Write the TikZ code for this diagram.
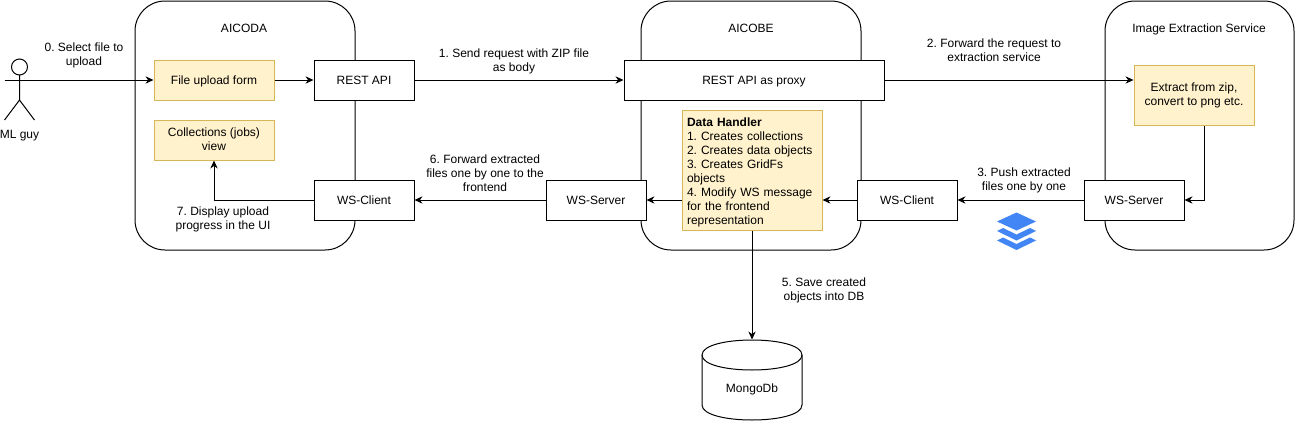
\documentclass[tikz,border=0pt]{standalone}
\usepackage{fontspec}
\setmainfont{Liberation Sans}
\usetikzlibrary{arrows.meta}
\definecolor{notefill}{HTML}{FFF2CC}
\definecolor{noteline}{HTML}{D6B656}
\definecolor{stackblue}{HTML}{4285F4}
\begin{document}
\frenchspacing
\begin{tikzpicture}[
      x=.75pt, y=-.75pt,
      line width=.75pt,
      every node/.style={font=\fontsize{9}{10.5}\selectfont, inner sep=0,
        execute at begin node=\rule{0pt}{8.4pt}, execute at end node=\rule[-1pt]{0pt}{1pt}},
      service/.style={draw, rounded corners=22.5pt},
      box/.style={draw, fill=white, minimum width=75pt, minimum height=30pt},
      note/.style={draw=noteline, fill=notefill, minimum width=90pt, minimum height=30pt, align=center},
      caption/.style={align=center},
      lines/.style={execute at begin node=\rule{0pt}{9.9pt}},
      flow/.style={-{Stealth[length=6pt, width=5.5pt]}}
    ]
    \useasboundingbox (0,0) rectangle (1295,421);

    \draw[service] (135,1) rectangle (355,250);
    \draw[service] (641,1) rectangle (861,250);
    \draw[service] (1105,1) rectangle (1294,250);
    \node[caption] (aicoda) at (244,28) {AICODA};
    \node[caption] (aicobe) at (751,28) {AICOBE};
    \node[caption] (extraction) at (1199,28) {Image Extraction Service};

    \node[note] (form) at (214,80) {File upload form};
    \node[note, lines] (collections) at (214,140) {Collections (jobs)\\view};
    \node[box] (codarest) at (364,80) {REST API};
    \node[box] (codaclient) at (364,200) {WS-Client};
    \node[box, minimum width=195pt] (proxy) at (754,80) {REST API as proxy};
    \node[box] (beserver) at (596,200) {WS-Server};
    \node[box] (beclient) at (907,200) {WS-Client};
    \node[box] (exserver) at (1134,200) {WS-Server};
    \node[note, lines, minimum height=45pt] (extract) at (1194,95.5) {Extract from zip,\\convert to png etc.};
    \node[note, lines, minimum width=105pt, minimum height=90pt, text width=97.5pt, align=left] (handler) at (752,170) {%
      \textbf{Data Handler}\\1. Creates collections\\2. Creates data objects\\3. Creates GridFs\\objects\\4. Modify WS message\\for the frontend\\representation};

    \coordinate (head) at (19.5,67);
    \coordinate (hip) at (19.5,100);
    \coordinate (armleft) at (4.5,80);
    \coordinate (armright) at (34.5,80);
    \draw (head) circle (6pt);
    \draw (19.5,75) -- (hip) -- (4.5,120) (hip) -- (34.5,120);
    \draw (armleft) -- (armright);
    \node[caption] (guy) at (19.5,134) {ML guy};

    \node[minimum width=75pt, minimum height=60pt] (mongo) at (752,380) {};
    \draw (702,355) .. controls (702,335) and (802,335) .. (802,355)
      -- (802,405) .. controls (802,425) and (702,425) .. (702,405) -- cycle;
    \draw (702,355) .. controls (702,375) and (802,375) .. (802,355);
    \node[caption] (mongolabel) at (752,388) {MongoDb};

    \draw[flow] (armright) -- (form);
    \draw[flow] (form) -- (codarest);
    \draw[flow] (codarest) -- (proxy);
    \draw[flow] (proxy.east) -- (proxy.east -| extract.west);
    \draw[flow] ([xshift=7.5pt]extract.south) |- (exserver.east);
    \draw[flow] (exserver) -- (beclient);
    \draw[flow] (beclient) -- (beclient -| handler.east);
    \draw[flow] (beserver -| handler.west) -- (beserver);
    \draw[flow] (beserver) -- (codaclient);
    \draw[flow] (codaclient) -| (collections.south);
    \draw[flow] (handler.south) -- (mongo.north);

    \node[caption, lines] (step0) at (84,55) {0. Select file to\\upload};
    \node[caption, lines] (step1) at (514,61) {1. Send request with ZIP file\\as body};
    \node[caption, lines] (step2) at (994,51) {2. Forward the request to\\extraction service};
    \node[caption, lines] (step3) at (1024,180) {3. Push extracted\\files one by one};
    \node[caption, lines] (step5) at (824,290) {5. Save created\\objects into DB};
    \node[caption, lines] (step6) at (485,174) {6. Forward extracted\\files one by one to the\\frontend};
    \node[caption, lines] (step7) at (223,219) {7. Display upload\\progress in the UI};

    \fill[stackblue] (1016.5,212.5) -- (1036,221.5) -- (1016.5,230.5) -- (997,221.5) -- cycle;
    \fill[stackblue] (1003,228) -- (1016.5,234.5) -- (1030,228) -- (1036,231) -- (1016.5,240.5) -- (997,231) -- cycle;
    \fill[stackblue] (1003,237.5) -- (1016.5,244) -- (1030,237.5) -- (1036,240.5) -- (1016.5,250) -- (997,240.5) -- cycle;
    \end{tikzpicture}
\end{document}
